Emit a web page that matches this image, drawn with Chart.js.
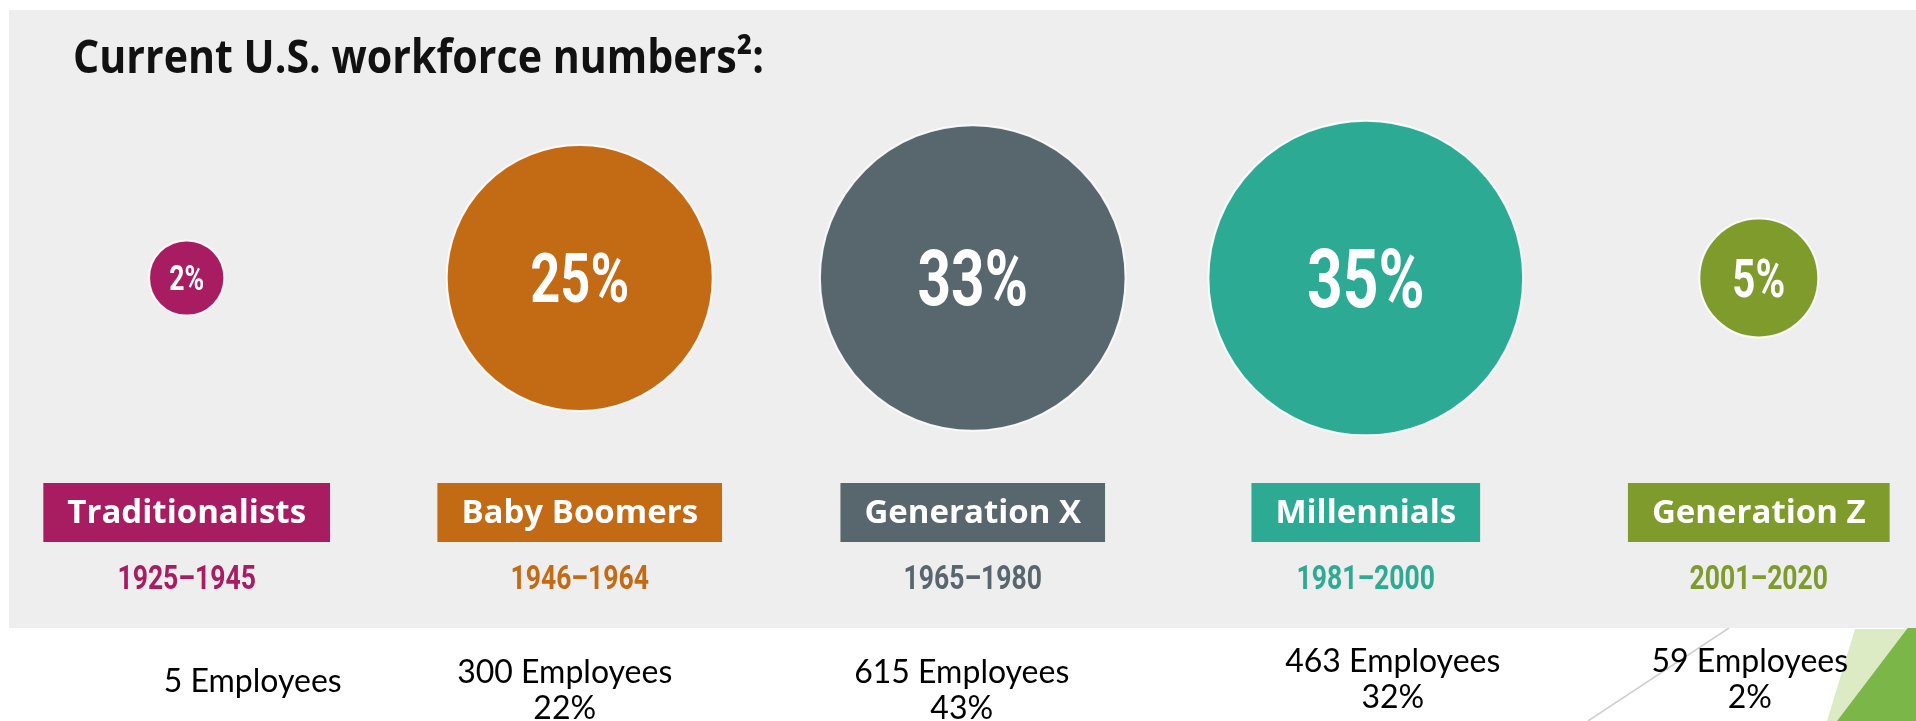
<!DOCTYPE html>
<html>
<head>
<meta charset="utf-8">
<script src="https://cdn.jsdelivr.net/npm/chart.js@4/dist/chart.umd.min.js"></script>
<style>
  html, body { margin: 0; padding: 0; background: #ffffff; }
  #wrap { width: 1916px; height: 721px; }
  canvas { display: block; }
</style>
</head>
<body>
<div id="wrap"><canvas id="c" width="1916" height="721"></canvas></div>
<script>
// ---------- data ----------
const chartTitle = 'Current U.S. workforce numbers\u00B2:';
const generations = ['Traditionalists', 'Baby Boomers', 'Generation X', 'Millennials', 'Generation Z'];
const birthYears = ['1925\u20131945', '1946\u20131964', '1965\u20131980', '1981\u20132000', '2001\u20132020'];
const workforcePct = [2, 25, 33, 35, 5];
const employeeCounts = [5, 300, 615, 463, 59];
const employeeShare = [null, 22, 43, 32, 2];

// ---------- styles / layout (kept separate from data) ----------
const genColors = ['#A81C62', '#C36A15', '#58666E', '#2DAA94', '#7F9B2C'];
const pctFontSizes = [35, 69, 77, 82, 53];
const noteShiftX = [66, -15, -11, 27, -9];
const noteBaseY = [692, 683, 683, 672, 672];
const bubbleScale = 26.6; // px radius per sqrt(percent)

function drawText(ctx, text, x, y, font, color, sx, align) {
  ctx.save();
  ctx.font = font;
  ctx.fillStyle = color;
  ctx.textAlign = align || 'center';
  ctx.textBaseline = 'alphabetic';
  ctx.translate(x, y);
  ctx.scale(sx, 1);
  ctx.fillText(text, 0, 0);
  ctx.restore();
}

const backdrop = {
  id: 'backdrop',
  beforeDraw(chart) {
    const ctx = chart.ctx;
    const W = chart.width, H = chart.height;
    ctx.save();
    ctx.fillStyle = '#ffffff';
    ctx.fillRect(0, 0, W, H);
    // slide decoration (bottom-right)
    ctx.strokeStyle = '#CFCFCF';
    ctx.lineWidth = 1.5;
    ctx.beginPath();
    ctx.moveTo(1729, 628);
    ctx.lineTo(1588, 721);
    ctx.stroke();
    ctx.fillStyle = '#DDEBC4';
    ctx.beginPath();
    ctx.moveTo(1855, 629); ctx.lineTo(1907, 629); ctx.lineTo(1837, 721); ctx.lineTo(1827, 721);
    ctx.closePath(); ctx.fill();
    ctx.fillStyle = '#7AB648';
    ctx.beginPath();
    ctx.moveTo(1916, 617); ctx.lineTo(1916, 721); ctx.lineTo(1837, 721);
    ctx.closePath(); ctx.fill();
    // grey infographic panel
    ctx.fillStyle = '#EEEEEE';
    ctx.fillRect(9, 10, W - 9, 618);
    // title
    ctx.font = 'bold 46px "Open Sans"';
    const tw = ctx.measureText(chartTitle).width;
    drawText(ctx, chartTitle, 73, 73, 'bold 46px "Open Sans"', '#111111', 691 / tw, 'left');
    ctx.restore();
  }
};

const labels = {
  id: 'labels',
  afterDatasetsDraw(chart) {
    const ctx = chart.ctx;
    const meta = chart.getDatasetMeta(0);
    meta.data.forEach((el, i) => {
      const x = el.x, y = el.y;
      const fs = pctFontSizes[i];
      // percentage inside bubble
      drawText(ctx, workforcePct[i] + '%', x, y + fs * 0.355, 'bold ' + fs + 'px Roboto', '#ffffff', 0.76);
      // generation box
      ctx.save();
      ctx.font = 'bold 33px "Open Sans"';
      const w = ctx.measureText(generations[i]).width + 48;
      ctx.fillStyle = genColors[i];
      ctx.fillRect(x - w / 2, 483, w, 59);
      ctx.restore();
      drawText(ctx, generations[i], x, 523, 'bold 33px "Open Sans"', '#ffffff', 1);
      // birth years
      drawText(ctx, birthYears[i], x, 589, 'bold 34px Roboto', genColors[i], 0.78);
      // employee notes
      const nx = x + noteShiftX[i];
      drawText(ctx, employeeCounts[i] + ' Employees', nx, noteBaseY[i], '32px Lato', '#000000', 1);
      if (employeeShare[i] !== null) {
        drawText(ctx, employeeShare[i] + '%', nx, noteBaseY[i] + 36, '32px Lato', '#000000', 1);
      }
    });
  }
};

new Chart(document.getElementById('c'), {
  type: 'bubble',
  data: {
    datasets: [{
      label: 'Share of U.S. workforce',
      data: workforcePct.map((p, i) => ({ x: i, y: 0, r: Math.sqrt(p) * bubbleScale })),
      backgroundColor: genColors,
      borderColor: 'rgba(255,255,255,0.9)',
      borderWidth: 2,
      hoverRadius: 0,
      clip: false
    }]
  },
  options: {
    responsive: false,
    devicePixelRatio: 1,
    animation: false,
    events: [],
    layout: { autoPadding: false, padding: { left: 0, right: 0, top: 0, bottom: 165 } },
    scales: {
      x: { type: 'linear', min: -0.475, max: 4.4, display: false },
      y: { type: 'linear', min: -1, max: 1, display: false }
    },
    plugins: { legend: { display: false }, tooltip: { enabled: false }, title: { display: false } }
  },
  plugins: [backdrop, labels]
});
</script>
</body>
</html>
